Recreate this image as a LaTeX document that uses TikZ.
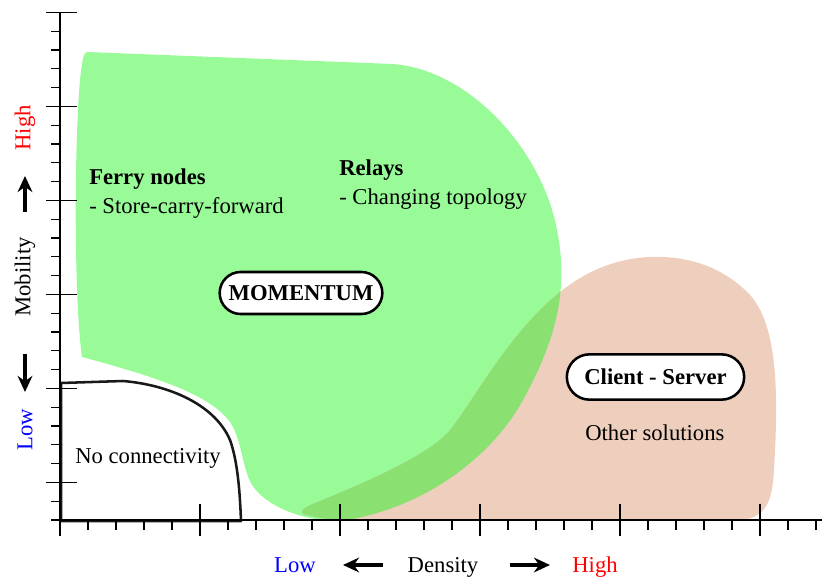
\documentclass[tikz,border=0pt]{standalone}
\usepackage{fontspec}
\setmainfont{Liberation Serif}
\usetikzlibrary{arrows.meta,shapes.misc}
\definecolor{zonegreen}{RGB}{152,251,152}
\definecolor{zonepink}{RGB}{238,207,190}
\definecolor{zoneboth}{RGB}{138,224,112}
\tikzset{
  lbl/.style={font=\fontsize{17}{20}\selectfont, inner sep=0pt},
  lblb/.style={lbl, font=\fontsize{17}{20}\selectfont\bfseries},
  tagbox/.style={rounded rectangle, draw=black, line width=1.9pt, fill=white,
    font=\fontsize{17}{20}\selectfont\bfseries, inner xsep=0pt, inner ysep=0pt},
  axisline/.style={line width=1.6pt, black},
  tickline/.style={line width=1pt, black},
  dirarrow/.style={line width=2.6pt, -{Stealth[length=12pt,width=11pt]}},
  region/.style={line width=1.9pt, line join=round, draw=black!90, fill=white}
}
\begin{document}
\begin{tikzpicture}[x=0.75pt,y=-0.75pt]
\useasboundingbox (0,0) rectangle (822,577);

% mobile zone (relays and ferries)
\def\greenzone{(87,52) -- (393,64)
  .. controls (470,70) and (542,150) .. (557,230)
  .. controls (569,290) and (556,340) .. (523,400)
  .. controls (490,460) and (420,510) .. (340,521)
  .. controls (300,521) and (265,505) .. (252,485)
  .. controls (242,468) and (242,440) .. (230,422)
  .. controls (210,395) and (160,378) .. (82,357)
  .. controls (74,300) and (74,150) .. (80,80)
  .. controls (82,60) and (84,52) .. (87,52) -- cycle}
% dense zone (client-server)
\def\pinkzone{(312,516) .. controls (330,521) and (360,521) .. (400,521) -- (730,521)
  .. controls (765,521) and (772,505) .. (774,470)
  .. controls (778,400) and (780,320) .. (745,290)
  .. controls (715,262) and (680,256) .. (650,257)
  .. controls (600,259) and (565,285) .. (540,310)
  .. controls (500,350) and (470,405) .. (450,430)
  .. controls (430,455) and (360,485) .. (310,505)
  .. controls (298,511) and (300,515) .. (312,516) -- cycle}

\fill[zonegreen] \greenzone;
\fill[zonepink] \pinkzone;
\begin{scope}
  \clip \pinkzone;
  \fill[zoneboth] \greenzone;
\end{scope}

% region without connectivity
\draw[region] (61,383) -- (123,381)
  .. controls (170,385) and (215,405) .. (230,440)
  .. controls (238,462) and (240,495) .. (241,521) -- (61,521) -- cycle;

% axes
\draw[axisline] (60,12) -- (60,536);
\draw[axisline] (60,520) -- (822,520);
\foreach \k in {0,...,27}{
  \pgfmathtruncatemacro{\m}{mod(\k,5)}
  \pgfmathsetmacro{\yy}{520-18.8*\k}
  \ifnum\m=2
    \draw[tickline] (46,\yy) -- (77,\yy);
  \else
    \draw[tickline] (51,\yy) -- (60,\yy);
  \fi
}
\draw[tickline] (46,12.4) -- (77,12.4);
\foreach \k in {1,...,27}{
  \pgfmathtruncatemacro{\m}{mod(\k,5)}
  \pgfmathsetmacro{\xx}{60+28*\k}
  \ifnum\m=0
    \draw[tickline] (\xx,504) -- (\xx,536);
  \else
    \draw[tickline] (\xx,520) -- (\xx,530);
  \fi
}

% zone labels
\node[lblb, anchor=base west] (ferry) at (89,185) {Ferry nodes};
\node[lbl, anchor=base west] (ferrynote) at (89,214) {- Store-carry-forward};
\node[lblb, anchor=base west] (relays) at (339,176) {Relays};
\node[lbl, anchor=base west] (relaysnote) at (339,205) {- Changing topology};
\node[lbl, anchor=base west] (noconn) at (75,464) {No connectivity};
\node[lbl, anchor=base west] (other) at (585,441) {Other solutions};
\node[tagbox, minimum width=122pt, minimum height=31.5pt] (momentum) at (301,293) {MOMENTUM};
\node[tagbox, minimum width=133pt, minimum height=34pt] (clientserver) at (655.5,377) {Client - Server};

% horizontal axis legend
\node[lbl, text=blue, anchor=base] (dlow) at (295,572) {Low};
\node[lbl, anchor=base] (density) at (443,572) {Density};
\node[lbl, text=red, anchor=base] (dhigh) at (595,572) {High};
\coordinate (dl1) at (383,565);
\coordinate (dl2) at (343,565);
\coordinate (dr1) at (510,565);
\coordinate (dr2) at (550,565);
\draw[dirarrow] (dl1) -- (dl2);
\draw[dirarrow] (dr1) -- (dr2);

% vertical axis legend
\node[lbl, text=red, rotate=90] (mhigh) at (25,128) {High};
\node[lbl, rotate=90] (mobility) at (25,277) {Mobility};
\node[lbl, text=blue, rotate=90] (mlow) at (25,430) {Low};
\coordinate (mu1) at (25,212);
\coordinate (mu2) at (25,176);
\coordinate (md1) at (25,354);
\coordinate (md2) at (25,392);
\draw[dirarrow] (mu1) -- (mu2);
\draw[dirarrow] (md1) -- (md2);
\end{tikzpicture}
\end{document}
